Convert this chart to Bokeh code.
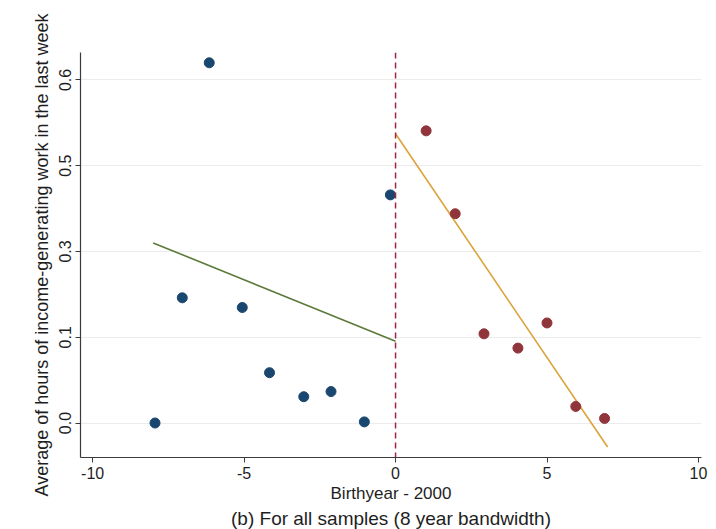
from bokeh.plotting import figure
from bokeh.models import ColumnDataSource, FixedTicker, Span, Title, Range1d
from bokeh.embed import file_html
from bokeh.resources import INLINE

# Data
left_x = [-7.94, -7.04, -6.15, -5.06, -4.16, -3.03, -2.13, -1.03, -0.17]
left_y = [0.000, 0.219, 0.630, 0.202, 0.088, 0.046, 0.055, 0.002, 0.399]
right_x = [1.01, 1.97, 2.92, 4.04, 5.00, 5.95, 6.90]
right_y = [0.511, 0.366, 0.156, 0.131, 0.175, 0.029, 0.008]

left_fit_x = [-8.0, 0.0]
left_fit_y = [0.315, 0.143]
right_fit_x = [0.0, 7.0]
right_fit_y = [0.506, -0.042]

x_ticks = [-10, -5, 0, 5, 10]
y_ticks = [0.0, 0.15, 0.30, 0.45, 0.60]
y_tick_labels = ["0.0", "0.1", "0.3", "0.5", "0.6"]

FONT = "Liberation Sans"
TXT = "#1e1e1e"

p = figure(width=716, height=529, output_backend="svg", toolbar_location=None,
           x_range=Range1d(-10.4, 10.1), y_range=Range1d(-0.0603, 0.648),
           min_border_left=80, min_border_right=15, min_border_top=52,
           min_border_bottom=72)
p.outline_line_color = None
p.background_fill_color = "white"
p.border_fill_color = "white"

# grid
p.xgrid.visible = False
p.ygrid.grid_line_color = "#ececec"
p.ygrid.grid_line_width = 1

# axes
p.xaxis.ticker = FixedTicker(ticks=x_ticks)
p.yaxis.ticker = FixedTicker(ticks=y_ticks)
p.yaxis.major_label_overrides = {t: l for t, l in zip(y_ticks, y_tick_labels)}
p.xaxis.major_label_overrides = {t: str(t) for t in x_ticks}
for ax in (p.xaxis, p.yaxis):
    ax.axis_line_color = "#3a3a3a"
    ax.axis_line_width = 1.2
    ax.major_tick_line_color = "#3a3a3a"
    ax.major_tick_in = 0
    ax.major_tick_out = 5
    ax.minor_tick_line_color = None
    ax.major_label_text_font = FONT
    ax.major_label_text_font_size = "16px"
    ax.major_label_text_color = TXT
    ax.axis_label_text_font = FONT
    ax.axis_label_text_font_size = "17px"
    ax.axis_label_text_font_style = "normal"
    ax.axis_label_text_color = TXT
p.yaxis.axis_label_text_font_size = "18px"
p.yaxis.major_label_orientation = "vertical"
p.yaxis.major_label_standoff = 4
p.yaxis.axis_label_standoff = 5
p.xaxis.major_label_standoff = 4
p.xaxis.axis_label_standoff = 2
p.xaxis.axis_label = "Birthyear - 2000"
p.yaxis.axis_label = "Average of hours of income-generating work in the last week"

sub = Title(text="(b) For all samples (8 year bandwidth)", align="center",
            text_font=FONT, text_font_size="19px", text_font_style="normal",
            text_color=TXT, standoff=0, offset=0)
p.add_layout(sub, "below")

# cutoff line
p.add_layout(Span(location=0, dimension="height", line_color="#9b2743",
                  line_dash="6 4", line_width=1.5))

# fit lines
p.line(left_fit_x, left_fit_y, line_color="#5b7a3a", line_width=1.6)
p.line(right_fit_x, right_fit_y, line_color="#dba33a", line_width=1.6)

# scatter
p.scatter(left_x, left_y, size=10, fill_color="#1a476f", line_color="#1a476f")
p.scatter(right_x, right_y, size=10, fill_color="#90353b", line_color="#90353b")

open("out.html", "w").write(file_html(p, INLINE))
